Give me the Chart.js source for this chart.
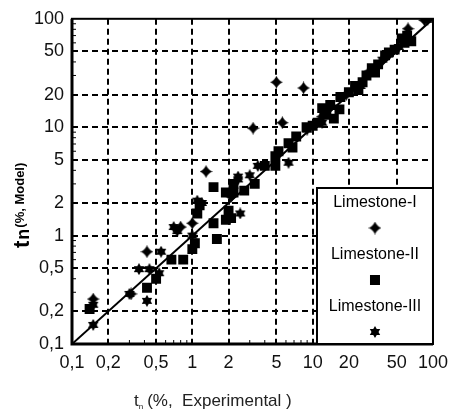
<!DOCTYPE html>
<html>
<head>
<meta charset="utf-8">
<script src="https://cdn.jsdelivr.net/npm/chart.js@4.4.0/dist/chart.umd.min.js"></script>
<style>
  html, body { margin: 0; padding: 0; background: #fff; }
</style>
</head>
<body>
<canvas id="myChart" width="456" height="416"></canvas>
<script>
// tick values shared by both log axes
const tickValues = [0.1, 0.2, 0.5, 1, 2, 5, 10, 20, 50, 100];

// Limestone-I (diamonds) - experimental vs model
const lime1X = [0.15, 0.31, 0.42, 0.8, 1.0, 1.3, 2.1, 3.2, 5.0, 5.6, 8.4, 12, 19, 30, 46, 62, 85];
const lime1Y = [0.26, 0.29, 0.71, 1.2, 1.3, 3.9, 2.3, 9.8, 26, 11, 23, 12.5, 20, 33, 50, 81, 97];

// Limestone-II (squares)
const lime2X = [0.14, 0.42, 0.5, 0.67, 0.84, 1.0, 1.05, 1.1, 1.15, 1.5, 1.5, 1.6, 1.9, 2.0, 2.1, 1.9, 2.2, 2.2, 2.7, 3.3, 4.0, 4.9, 4.9, 5.2, 6.3, 6.8, 7.3, 8.9, 10, 11, 12, 12.5, 13, 14, 15, 16.7, 17, 20, 22.5, 24, 26, 28, 31, 33, 35, 40, 43, 48, 55, 58, 61, 66];
const lime2Y = [0.21, 0.33, 0.4, 0.6, 0.6, 0.75, 0.85, 1.6, 1.9, 1.3, 2.8, 0.93, 1.4, 1.7, 1.45, 2.5, 2.5, 3.0, 2.6, 3.0, 4.4, 4.4, 5.4, 6.0, 7.1, 6.5, 8.2, 10, 10.3, 11, 15, 13, 14, 16, 12, 14.6, 19, 21, 24, 22, 26, 30, 35, 32, 38, 46, 49, 52, 66, 60, 70, 62];

// Limestone-III (stars)
const lime3X = [0.15, 0.15, 0.3, 0.36, 0.42, 0.44, 0.53, 0.55, 0.7, 0.75, 1.0, 1.1, 1.2, 2.4, 2.5, 2.4, 3.0, 3.5, 6.3, 9, 12, 25, 38, 52, 90];
const lime3Y = [0.15, 0.23, 0.29, 0.49, 0.25, 0.49, 0.45, 0.71, 1.2, 1.1, 1.0, 2.1, 2.0, 3.3, 1.6, 3.5, 3.6, 4.4, 4.7, 9.5, 11, 24, 42, 55, 98];

// 1:1 reference line
const diagX = [0.1, 100];
const diagY = [0.1, 100];

const toPoints = (xs, ys) => xs.map((x, i) => ({ x: x, y: ys[i] }));

// little canvases used as marker shapes
function makeSprite(kind, size) {
    const c = document.createElement('canvas');
    c.width = c.height = size;
    const g = c.getContext('2d');
    const m = size / 2;
    g.fillStyle = '#000';
    g.beginPath();
    if (kind === 'diamond') {
        const k = size * 0.14;
        g.moveTo(m, 0);
        g.quadraticCurveTo(m + k, m - k, size, m);
        g.quadraticCurveTo(m + k, m + k, m, size);
        g.quadraticCurveTo(m - k, m + k, 0, m);
        g.quadraticCurveTo(m - k, m - k, m, 0);
    } else {
        for (let i = 0; i < 12; i++) {
            const r = i % 2 ? m * 0.58 : m;
            const a = Math.PI / 6 * i - Math.PI / 2;
            g.lineTo(m + r * Math.cos(a), m + r * Math.sin(a));
        }
    }
    g.closePath();
    g.fill();
    return c;
}
const diamondImg = makeSprite('diamond', 13);
const starImg = makeSprite('star', 12);

// frame, minor ticks, legend box and axis titles
const decorations = {
    id: 'decorations',
    afterDatasetsDraw(chart) {
        const { ctx, chartArea: a, scales } = chart;
        ctx.save();
        ctx.strokeStyle = '#000';

        // minor ticks on left and bottom axes
        ctx.lineWidth = 1;
        ctx.beginPath();
        [0.1, 1, 10].forEach(d => {
            for (let k = 2; k <= 9; k++) {
                const v = d * k;
                const py = scales.y.getPixelForValue(v);
                ctx.moveTo(a.left, py); ctx.lineTo(a.left + 4, py);
                const px = scales.x.getPixelForValue(v);
                ctx.moveTo(px, a.bottom); ctx.lineTo(px, a.bottom - 4);
            }
        });
        ctx.stroke();

        // frame
        ctx.lineWidth = 2;
        ctx.strokeRect(a.left, a.top, a.right - a.left, a.bottom - a.top);
        ctx.lineWidth = 3;
        ctx.beginPath();
        ctx.moveTo(a.left, a.top); ctx.lineTo(a.left, a.bottom); ctx.lineTo(a.right, a.bottom);
        ctx.stroke();

        // legend box
        const bx = a.right - 116, by = a.bottom - 156, bw = 116, bh = 156;
        ctx.fillStyle = '#fff';
        ctx.fillRect(bx, by, bw, bh);
        ctx.lineWidth = 2;
        ctx.strokeRect(bx, by, bw, bh);
        ctx.fillStyle = '#000';
        ctx.font = '16px "Liberation Sans", Arial, sans-serif';
        ctx.textAlign = 'center';
        ctx.textBaseline = 'middle';
        const cx = bx + bw / 2;
        const series = chart.data.datasets.filter(ds => ds.label);
        series.forEach((ds, i) => {
            const ty = by + 15 + i * 52;
            ctx.fillText(ds.label, cx, ty);
            const my = ty + 25;
            if (ds.pointStyle === 'rect') {
                ctx.fillRect(cx - 5, my - 5, 10, 10);
            } else {
                const s = ds.pointStyle.width;
                ctx.drawImage(ds.pointStyle, cx - s / 2, my - s / 2);
            }
        });

        // y axis title (rotated)
        ctx.save();
        ctx.translate(21, 200);
        ctx.rotate(-Math.PI / 2);
        ctx.textAlign = 'left';
        ctx.textBaseline = 'alphabetic';
        ctx.font = 'bold 22px "Liberation Sans", Arial, sans-serif';
        let x0 = -48;
        ctx.fillText('t', x0, 8);
        x0 += ctx.measureText('t').width + 1;
        ctx.font = 'bold 18px "Liberation Sans", Arial, sans-serif';
        ctx.fillText('n', x0, 8);
        x0 += ctx.measureText('n').width + 1;
        ctx.font = 'bold 13px "Liberation Sans", Arial, sans-serif';
        ctx.fillText('(%, Model)', x0, 3);
        ctx.restore();

        // x axis title
        ctx.fillStyle = '#222';
        ctx.textAlign = 'left';
        ctx.textBaseline = 'alphabetic';
        ctx.font = '17px "Liberation Sans", Arial, sans-serif';
        let tx = 134;
        ctx.fillText('t', tx, 406);
        tx += ctx.measureText('t').width;
        ctx.font = '8px "Liberation Sans", Arial, sans-serif';
        ctx.fillText('n', tx, 409);
        tx += ctx.measureText('n').width + 4;
        ctx.font = '17px "Liberation Sans", Arial, sans-serif';
        ctx.fillText('(%,  Experimental )', tx, 406);

        ctx.restore();
    }
};

const gridColor = (c) => (c.tick && (c.tick.value === 0.1 || c.tick.value === 100)) ? 'rgba(0,0,0,0)' : '#000';
const tickFont = { family: '"Liberation Sans", Arial, sans-serif', size: 18 };

const ctx = document.getElementById('myChart').getContext('2d');
const myChart = new Chart(ctx, {
    type: 'scatter',
    data: {
        datasets: [{
            type: 'line',
            data: toPoints(diagX, diagY),
            borderColor: '#000',
            borderWidth: 2,
            pointRadius: 0,
            fill: false
        }, {
            label: 'Limestone-I',
            data: toPoints(lime1X, lime1Y),
            pointStyle: diamondImg,
            backgroundColor: '#000',
            borderColor: '#000'
        }, {
            label: 'Limestone-II',
            data: toPoints(lime2X, lime2Y),
            pointStyle: 'rect',
            pointRadius: 7,
            borderWidth: 0,
            backgroundColor: '#000',
            borderColor: '#000'
        }, {
            label: 'Limestone-III',
            data: toPoints(lime3X, lime3Y),
            pointStyle: starImg,
            backgroundColor: '#000',
            borderColor: '#000'
        }]
    },
    options: {
        responsive: false,
        animation: false,
        devicePixelRatio: 1,
        layout: { padding: { top: 13, right: 18, left: 0, bottom: 0 } },
        plugins: { legend: { display: false }, tooltip: { enabled: false } },
        scales: {
            x: {
                type: 'logarithmic',
                min: 0.1,
                max: 100,
                afterBuildTicks: (s) => { s.ticks = tickValues.map(v => ({ value: v })); },
                afterFit: (s) => { s.height = 72; },
                ticks: {
                    autoSkip: false, maxRotation: 0, padding: 8,
                    color: '#111', font: tickFont,
                    callback: (v) => String(v).replace('.', ',')
                },
                grid: { color: gridColor, lineWidth: 2, drawTicks: false },
                border: { display: false, dash: [6, 4] }
            },
            y: {
                type: 'logarithmic',
                min: 0.1,
                max: 100,
                afterBuildTicks: (s) => { s.ticks = tickValues.map(v => ({ value: v })); },
                afterFit: (s) => { s.width = 72; },
                ticks: {
                    autoSkip: false, padding: 8,
                    color: '#111', font: tickFont,
                    callback: (v) => String(v).replace('.', ',')
                },
                grid: { color: gridColor, lineWidth: 2, drawTicks: false },
                border: { display: false, dash: [6, 4] }
            }
        }
    },
    plugins: [decorations]
});
</script>
</body>
</html>
